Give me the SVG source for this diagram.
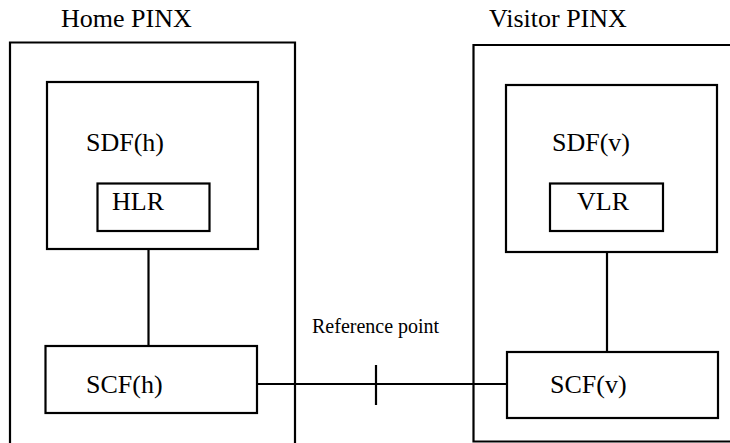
<svg xmlns="http://www.w3.org/2000/svg" width="730" height="443" viewBox="0 0 730 443">
<style>
.b{fill:none;stroke:#000;stroke-width:2.2}
.t{font-family:'Liberation Serif','Times New Roman',serif;font-size:26px;fill:#000}
.s{font-family:'Liberation Serif','Times New Roman',serif;font-size:20px;fill:#000}
</style>
<rect width="730" height="443" fill="#fff"/>
<g id="home-pinx">
<path class="b" d="M10,444 V42.5 H295 V444"/>
<text class="t" x="61" y="27">Home PINX</text>
</g>
<g id="visitor-pinx">
<path class="b" d="M740,45 H473.5 V441.5 H740"/>
<text class="t" x="489" y="27">Visitor PINX</text>
</g>
<g id="sdf-h">
<rect class="b" x="47" y="82" width="211" height="167"/>
<text class="t" x="86" y="151">SDF(h)</text>
</g>
<g id="hlr">
<rect class="b" x="97.5" y="183.5" width="112" height="47.5"/>
<text class="t" x="112" y="210">HLR</text>
</g>
<g id="scf-h">
<rect class="b" x="45.5" y="346" width="211.5" height="67"/>
<text class="t" x="86" y="393">SCF(h)</text>
</g>
<g id="sdf-v">
<rect class="b" x="506" y="85" width="211" height="167"/>
<text class="t" x="552" y="151">SDF(v)</text>
</g>
<g id="vlr">
<rect class="b" x="550" y="183.5" width="113" height="47.5"/>
<text class="t" x="577" y="210">VLR</text>
</g>
<g id="scf-v">
<rect class="b" x="507" y="352" width="211" height="66"/>
<text class="t" x="550" y="393">SCF(v)</text>
</g>
<g id="connectors">
<line class="b" x1="148.5" y1="249" x2="148.5" y2="345"/>
<line class="b" x1="607" y1="252" x2="607" y2="352"/>
<line class="b" x1="258" y1="384" x2="507" y2="384"/>
<line class="b" x1="376" y1="365" x2="376" y2="405"/>
<text class="s" x="312" y="333">Reference point</text>
</g>
</svg>
